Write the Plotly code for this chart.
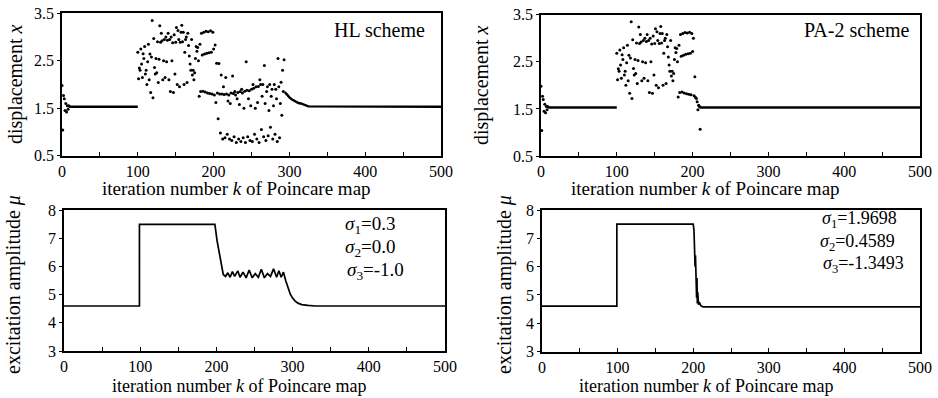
import plotly.graph_objects as go

# ---------------- data ----------------
# initial transient (both schemes)
start_k = [0, 1, 2, 3, 4, 5, 6, 7, 8, 9]
start_x = [1.98, 1.04, 1.77, 1.70, 1.45, 1.60, 1.42, 1.55, 1.48, 1.55]

# steady segment before control switch
steady1_k = [9, 100]
steady1_x = [1.53, 1.53]

# chaotic motion k = 100..199 (identical in both schemes)
chaos_k = [100, 101, 102, 103, 104, 105, 106, 107, 108, 109, 110, 111, 112, 113, 114, 115, 116, 117, 118, 119,
           120, 121, 122, 123, 124, 125, 126, 127, 128, 129, 130, 131, 132, 133, 134, 135, 136, 137, 138, 139,
           140, 141, 142, 143, 144, 145, 146, 147, 148, 149, 150, 151, 152, 153, 154, 155, 156, 157, 158, 159,
           160, 161, 162, 163, 164, 165, 166, 167, 168, 169, 170, 171, 172, 173, 174, 175, 176, 177, 178, 179,
           180, 181, 182, 183, 184, 185, 186, 187, 188, 189, 190, 191, 192, 193, 194, 195, 196, 197, 198, 199]
chaos_x = [2.68, 2.12, 2.35, 2.30, 2.75, 2.43, 2.15, 2.65, 2.55, 2.80, 2.22, 2.30, 2.00, 2.48, 2.85, 2.10, 2.64, 1.83, 2.58, 3.35,
           1.72, 2.97, 2.36, 2.22, 2.55, 2.25, 2.90, 2.04, 2.53, 3.24, 2.89, 3.08, 2.92, 2.10, 2.50, 2.95, 2.15, 3.00, 2.48, 2.93,
           3.08, 2.10, 2.95, 1.85, 3.00, 2.50, 2.88, 1.83, 3.05, 2.22, 2.89, 3.20, 2.00, 3.14, 2.95, 1.95, 2.89, 3.10, 3.25, 2.90,
           3.10, 2.00, 2.68, 2.95, 3.00, 2.04, 3.08, 2.82, 2.60, 2.43, 2.30, 2.95, 2.20, 2.30, 2.10, 2.25, 2.55, 2.80, 2.70, 2.78,
           2.50, 1.75, 2.85, 1.85, 3.08, 2.62, 1.86, 3.10, 2.64, 1.84, 3.12, 2.66, 1.82, 3.11, 2.67, 1.81, 3.13, 2.68, 1.80, 3.10]

# HL scheme: k = 200..293 (three-band motion)
hl_k = [200, 201, 202, 203, 204, 205, 206, 207, 208, 209, 210, 211, 212, 213, 214, 215, 216, 217, 218, 219,
        220, 221, 222, 223, 224, 225, 226, 227, 228, 229, 230, 231, 232, 233, 234, 235, 236, 237, 238, 239,
        240, 241, 242, 243, 244, 245, 246, 247, 248, 249, 250, 251, 252, 253, 254, 255, 256, 257, 258, 259,
        260, 261, 262, 263, 264, 265, 266, 267, 268, 269, 270, 271, 272, 273, 274, 275, 276, 277, 278, 279,
        280, 281, 282, 283, 284, 285, 286, 287, 288, 289, 290, 291, 292, 293]
hl_x = [2.75, 1.78, 2.83, 1.62, 2.45, 1.82, 1.28, 2.44, 1.80, 0.98, 2.20, 1.80, 0.85, 1.95, 1.79, 0.88, 2.15, 1.80, 0.95, 1.65,
        1.78, 0.85, 1.60, 1.82, 0.82, 2.18, 1.81, 0.90, 1.85, 1.78, 0.78, 1.70, 1.83, 0.85, 1.58, 1.85, 0.80, 1.90, 1.82, 0.88,
        1.50, 1.86, 0.78, 2.48, 1.88, 0.90, 1.70, 1.87, 0.82, 1.55, 1.90, 0.80, 2.00, 1.92, 0.95, 1.50, 1.95, 0.85, 1.62, 1.96,
        0.78, 2.10, 2.00, 1.05, 1.75, 2.00, 0.90, 2.40, 1.60, 0.82, 1.85, 1.95, 0.92, 1.45, 2.00, 1.10, 1.75, 1.90, 0.85, 1.55,
        2.00, 0.95, 1.90, 1.70, 0.80, 2.55, 1.95, 0.88, 1.60, 2.05, 1.35, 2.30, 1.85, 2.52]

# HL scheme: return to period-1 orbit
hl_decay_k = [294, 297, 300, 303, 306, 309, 312, 315, 318, 321, 325, 500]
hl_decay_x = [1.84, 1.78, 1.73, 1.69, 1.66, 1.63, 1.61, 1.60, 1.58, 1.56, 1.54, 1.53]

# PA-2 scheme: k = 200..210
pa_k = [200, 201, 202, 203, 204, 205, 206, 207, 208, 209, 210]
pa_x = [2.72, 3.00, 1.78, 2.18, 1.74, 1.72, 1.65, 1.48, 1.58, 1.55, 1.07]
pa_steady_k = [209, 500]
pa_steady_x = [1.53, 1.53]

# excitation amplitude mu
hl_mu_k = [0, 99, 99, 198, 201, 204, 207, 209, 212, 215, 218, 221, 224, 228, 231, 235, 239, 243, 247, 251,
           255, 259, 263, 267, 271, 275, 279, 282, 285, 288, 291, 294, 297, 300, 303, 307, 312, 320, 330, 500]
hl_mu = [4.6, 4.6, 7.5, 7.5, 6.9, 6.4, 6.0, 5.72, 5.65, 5.78, 5.62, 5.82, 5.65, 5.85, 5.62, 5.80, 5.60, 5.88, 5.60, 5.75,
         5.62, 5.90, 5.60, 5.75, 5.65, 5.92, 5.62, 5.85, 5.62, 5.80, 5.50, 5.25, 5.02, 4.88, 4.78, 4.70, 4.65, 4.62, 4.60, 4.60]

pa_mu_k = [0, 99, 99, 200, 201, 201.5, 202, 202.5, 203, 203.5, 204, 204.5, 205, 205.5, 206, 207, 208, 210, 213, 500]
pa_mu = [4.6, 4.6, 7.5, 7.5, 7.3, 6.6, 7.0, 6.0, 6.4, 5.4, 5.8, 4.9, 5.6, 4.7, 5.1, 4.65, 4.75, 4.62, 4.58, 4.58]

x_ticks = [0, 100, 200, 300, 400, 500]
x_minor = [50, 150, 250, 350, 450]
disp_ticks = [0.5, 1.5, 2.5, 3.5]
mu_ticks = [3, 4, 5, 6, 7, 8]

x_title = "iteration number <i>k</i> of Poincare map"
disp_title = "displacement <i>x</i>"
mu_title = "excitation amplitude <i>μ</i>"

# ---------------- figure ----------------
FONT = "Liberation Serif"
W, H = 938, 398
fig = go.Figure()

dot = dict(color="black", size=3)

def add_disp(axis_suffix, segments_dots, segments_lines):
    for kk, vv in segments_dots:
        fig.add_trace(go.Scatter(x=kk, y=vv, mode="markers", marker=dot,
                                 xaxis="x" + axis_suffix, yaxis="y" + axis_suffix, showlegend=False))
    for kk, vv in segments_lines:
        fig.add_trace(go.Scatter(x=kk, y=vv, mode="lines", line=dict(color="black", width=2.4),
                                 xaxis="x" + axis_suffix, yaxis="y" + axis_suffix, showlegend=False))

add_disp("", [(start_k, start_x), (chaos_k, chaos_x), (hl_k, hl_x)],
         [(steady1_k, steady1_x), (hl_decay_k, hl_decay_x)])
add_disp("2", [(start_k, start_x), (chaos_k, chaos_x), (pa_k, pa_x)],
         [(steady1_k, steady1_x), (pa_steady_k, pa_steady_x)])

fig.add_trace(go.Scatter(x=hl_mu_k, y=hl_mu, mode="lines", line=dict(color="black", width=1.7),
                         xaxis="x3", yaxis="y3", showlegend=False))
fig.add_trace(go.Scatter(x=pa_mu_k, y=pa_mu, mode="lines", line=dict(color="black", width=1.7),
                         xaxis="x4", yaxis="y4", showlegend=False))

tickfont = dict(family=FONT, size=16, color="black")

def xaxis(domain, anchor):
    return dict(domain=domain, anchor=anchor, range=[0, 500], tickvals=x_ticks,
                ticks="inside", ticklen=4, tickwidth=1, tickcolor="black",
                minor=dict(tickvals=x_minor, ticks="inside", ticklen=4, tickcolor="black"),
                showline=True, linecolor="black", linewidth=1.8, mirror=True,
                showgrid=False, zeroline=False, tickfont=tickfont, automargin=False,
                ticklabelstandoff=0)

def yaxis(domain, anchor, rng, tv):
    return dict(domain=domain, anchor=anchor, range=rng, tickvals=tv,
                ticks="outside", ticklen=3, tickcolor="black",
                showline=True, linecolor="black", linewidth=1.8, mirror=True,
                showgrid=False, zeroline=False, tickfont=tickfont, automargin=False)

fig.update_layout(
    width=W, height=H,
    margin=dict(l=0, r=0, t=0, b=0, autoexpand=False),
    paper_bgcolor="white", plot_bgcolor="white",
    font=dict(family=FONT, color="black"),
    xaxis=xaxis([62 / W, 441 / W], "y"),
    yaxis=yaxis([1 - 155.7 / H, 1 - 13.3 / H], "x", [0.5, 3.5], disp_ticks),
    xaxis2=xaxis([541 / W, 920 / W], "y2"),
    yaxis2=yaxis([1 - 156 / H, 1 - 14.7 / H], "x2", [0.5, 3.5], disp_ticks),
    xaxis3=xaxis([64 / W, 445 / W], "y3"),
    yaxis3=yaxis([1 - 351 / H, 1 - 210.3 / H], "x3", [3, 8], mu_ticks),
    xaxis4=xaxis([542 / W, 920 / W], "y4"),
    yaxis4=yaxis([1 - 351.5 / H, 1 - 210 / H], "x4", [3, 8], mu_ticks),
)

def ann(text, px, py, xanchor="center", size=20, angle=0, yanchor="middle"):
    return dict(text=text, x=px / W, y=1 - py / H, xref="paper", yref="paper",
                xanchor=xanchor, yanchor=yanchor, showarrow=False, textangle=angle,
                font=dict(family=FONT, size=size, color="black"))

anns = [
    # axis titles
    ann(x_title, 237, 188, size=19),
    ann(x_title, 705, 188, size=19),
    ann(x_title, 239, 398, size=18, yanchor="bottom"),
    ann(x_title, 706, 398, size=18, yanchor="bottom"),
    ann(disp_title, 15, 84, angle=-90),
    ann(disp_title, 482, 85, angle=-90),
    ann(mu_title, 13, 285, angle=-90),
    ann(mu_title, 504, 285, angle=-90),
    # panel labels
    ann("HL scheme", 427, 30, xanchor="right"),
    ann("PA-2 scheme", 911, 30, xanchor="right"),
    ann("<i>σ</i><sub>1</sub>=0.3", 343, 225, xanchor="left", size=19),
    ann("<i>σ</i><sub>2</sub>=0.0", 343, 248, xanchor="left", size=19),
    ann("<i>σ</i><sub>3</sub>=-1.0", 345, 271, xanchor="left", size=19),
    ann("<i>σ</i><sub>1</sub>=1.9698", 820, 220, xanchor="left", size=18),
    ann("<i>σ</i><sub>2</sub>=0.4589", 818, 242, xanchor="left", size=18),
    ann("<i>σ</i><sub>3</sub>=-1.3493", 821, 264, xanchor="left", size=18),
]
fig.update_layout(annotations=anns)

fig.write_html("out.html", config={"displayModeBar": False},
               post_script="document.body.style.margin='0';document.body.style.overflow='hidden';")
